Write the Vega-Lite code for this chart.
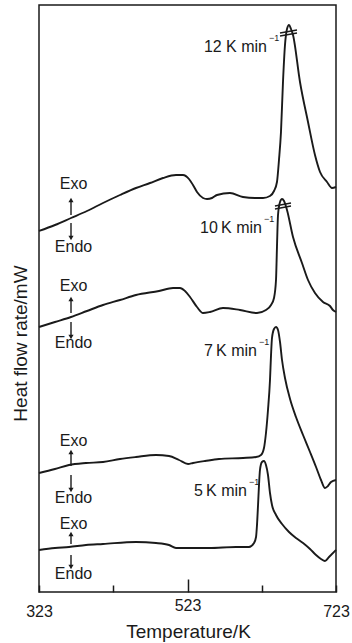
{
  "$schema": "https://vega.github.io/schema/vega-lite/v6.json",
  "width": 297,
  "height": 587,
  "autosize": "none",
  "padding": {"left": 39, "top": 5, "right": 16, "bottom": 51},
  "background": "white",
  "config": {
    "view": {"stroke": "#1a1a1a", "strokeWidth": 1.5},
    "font": "Liberation Sans",
    "text": {"font": "Liberation Sans", "color": "#1a1a1a"}
  },
  "datasets": {
    "curves": [
      {"rate": "12", "T": 323.0, "hf": 72.2}, {"rate": "12", "T": 344.5, "hf": 73.4}, {"rate": "12", "T": 366.1, "hf": 74.8},
      {"rate": "12", "T": 387.6, "hf": 76.2}, {"rate": "12", "T": 409.2, "hf": 77.8}, {"rate": "12", "T": 432.1, "hf": 79.4},
      {"rate": "12", "T": 453.6, "hf": 80.8}, {"rate": "12", "T": 472.5, "hf": 81.8}, {"rate": "12", "T": 490.0, "hf": 82.8},
      {"rate": "12", "T": 507.5, "hf": 83.4}, {"rate": "12", "T": 516.9, "hf": 83.4}, {"rate": "12", "T": 525.0, "hf": 82.6},
      {"rate": "12", "T": 530.4, "hf": 81.4}, {"rate": "12", "T": 535.8, "hf": 80.0}, {"rate": "12", "T": 543.9, "hf": 78.8},
      {"rate": "12", "T": 549.3, "hf": 78.6}, {"rate": "12", "T": 556.0, "hf": 78.8}, {"rate": "12", "T": 562.7, "hf": 79.4},
      {"rate": "12", "T": 580.2, "hf": 79.8}, {"rate": "12", "T": 597.7, "hf": 79.0}, {"rate": "12", "T": 613.9, "hf": 78.8},
      {"rate": "12", "T": 624.7, "hf": 78.8}, {"rate": "12", "T": 634.1, "hf": 79.2}, {"rate": "12", "T": 639.5, "hf": 80.2},
      {"rate": "12", "T": 643.5, "hf": 82.0}, {"rate": "12", "T": 646.2, "hf": 86.4}, {"rate": "12", "T": 648.9, "hf": 92.0},
      {"rate": "12", "T": 651.6, "hf": 102.0}, {"rate": "12", "T": 654.3, "hf": 109.4}, {"rate": "12", "T": 657.0, "hf": 112.6},
      {"rate": "12", "T": 659.7, "hf": 113.4}, {"rate": "12", "T": 662.4, "hf": 112.6}, {"rate": "12", "T": 665.1, "hf": 111.4},
      {"rate": "12", "T": 674.5, "hf": 102.0}, {"rate": "12", "T": 685.3, "hf": 94.0}, {"rate": "12", "T": 694.7, "hf": 87.4},
      {"rate": "12", "T": 701.5, "hf": 84.0}, {"rate": "12", "T": 710.9, "hf": 82.0}, {"rate": "12", "T": 717.6, "hf": 80.8},
      {"rate": "12", "T": 723.0, "hf": 81.0},

      {"rate": "10", "T": 323.0, "hf": 53.0}, {"rate": "10", "T": 344.5, "hf": 54.0}, {"rate": "10", "T": 366.1, "hf": 55.0},
      {"rate": "10", "T": 387.6, "hf": 56.2}, {"rate": "10", "T": 409.2, "hf": 57.4}, {"rate": "10", "T": 432.1, "hf": 58.4},
      {"rate": "10", "T": 453.6, "hf": 59.4}, {"rate": "10", "T": 484.6, "hf": 60.2}, {"rate": "10", "T": 503.5, "hf": 60.8},
      {"rate": "10", "T": 512.9, "hf": 60.8}, {"rate": "10", "T": 519.6, "hf": 60.2}, {"rate": "10", "T": 526.4, "hf": 59.0},
      {"rate": "10", "T": 535.8, "hf": 57.0}, {"rate": "10", "T": 543.9, "hf": 55.8}, {"rate": "10", "T": 553.3, "hf": 56.0},
      {"rate": "10", "T": 570.8, "hf": 56.8}, {"rate": "10", "T": 593.7, "hf": 56.4}, {"rate": "10", "T": 616.6, "hf": 55.8},
      {"rate": "10", "T": 628.7, "hf": 56.4}, {"rate": "10", "T": 635.5, "hf": 57.4}, {"rate": "10", "T": 639.5, "hf": 58.8},
      {"rate": "10", "T": 642.2, "hf": 62.4}, {"rate": "10", "T": 643.5, "hf": 69.0}, {"rate": "10", "T": 644.9, "hf": 75.4},
      {"rate": "10", "T": 647.6, "hf": 78.0}, {"rate": "10", "T": 650.3, "hf": 78.6}, {"rate": "10", "T": 653.0, "hf": 78.2},
      {"rate": "10", "T": 657.0, "hf": 76.4}, {"rate": "10", "T": 665.1, "hf": 71.0}, {"rate": "10", "T": 677.2, "hf": 65.8},
      {"rate": "10", "T": 685.3, "hf": 62.4}, {"rate": "10", "T": 694.7, "hf": 59.8}, {"rate": "10", "T": 705.5, "hf": 58.0},
      {"rate": "10", "T": 714.9, "hf": 57.2}, {"rate": "10", "T": 718.9, "hf": 56.4}, {"rate": "10", "T": 723.0, "hf": 56.0},

      {"rate": "7", "T": 323.0, "hf": 23.8}, {"rate": "7", "T": 344.5, "hf": 24.6}, {"rate": "7", "T": 363.4, "hf": 25.4},
      {"rate": "7", "T": 386.3, "hf": 25.8}, {"rate": "7", "T": 409.2, "hf": 26.0}, {"rate": "7", "T": 432.1, "hf": 26.6},
      {"rate": "7", "T": 453.6, "hf": 27.0}, {"rate": "7", "T": 480.6, "hf": 27.4}, {"rate": "7", "T": 498.1, "hf": 27.2},
      {"rate": "7", "T": 511.6, "hf": 26.4}, {"rate": "7", "T": 523.7, "hf": 25.6}, {"rate": "7", "T": 530.4, "hf": 25.8},
      {"rate": "7", "T": 546.6, "hf": 26.2}, {"rate": "7", "T": 565.4, "hf": 26.6}, {"rate": "7", "T": 597.7, "hf": 26.8},
      {"rate": "7", "T": 615.3, "hf": 27.0}, {"rate": "7", "T": 622.0, "hf": 27.4}, {"rate": "7", "T": 626.0, "hf": 28.8},
      {"rate": "7", "T": 628.7, "hf": 31.8}, {"rate": "7", "T": 631.4, "hf": 36.4}, {"rate": "7", "T": 634.1, "hf": 42.4},
      {"rate": "7", "T": 635.5, "hf": 47.4}, {"rate": "7", "T": 636.8, "hf": 50.8}, {"rate": "7", "T": 639.5, "hf": 52.6},
      {"rate": "7", "T": 642.2, "hf": 53.0}, {"rate": "7", "T": 644.9, "hf": 52.4}, {"rate": "7", "T": 647.6, "hf": 50.0},
      {"rate": "7", "T": 650.3, "hf": 46.4}, {"rate": "7", "T": 654.3, "hf": 42.8}, {"rate": "7", "T": 661.1, "hf": 38.6},
      {"rate": "7", "T": 669.1, "hf": 35.0}, {"rate": "7", "T": 678.6, "hf": 31.4}, {"rate": "7", "T": 688.0, "hf": 28.0},
      {"rate": "7", "T": 696.1, "hf": 25.0}, {"rate": "7", "T": 702.8, "hf": 22.4}, {"rate": "7", "T": 708.2, "hf": 20.8},
      {"rate": "7", "T": 712.2, "hf": 21.2}, {"rate": "7", "T": 716.3, "hf": 22.0}, {"rate": "7", "T": 723.0, "hf": 22.4},

      {"rate": "5", "T": 323.0, "hf": 8.4}, {"rate": "5", "T": 344.5, "hf": 8.8}, {"rate": "5", "T": 363.4, "hf": 9.0},
      {"rate": "5", "T": 386.3, "hf": 9.4}, {"rate": "5", "T": 409.2, "hf": 9.6}, {"rate": "5", "T": 453.6, "hf": 10.0},
      {"rate": "5", "T": 480.6, "hf": 9.8}, {"rate": "5", "T": 498.1, "hf": 9.4}, {"rate": "5", "T": 507.5, "hf": 8.8},
      {"rate": "5", "T": 521.0, "hf": 8.8}, {"rate": "5", "T": 552.0, "hf": 8.8}, {"rate": "5", "T": 588.3, "hf": 9.0},
      {"rate": "5", "T": 605.8, "hf": 9.0}, {"rate": "5", "T": 612.6, "hf": 9.8}, {"rate": "5", "T": 615.3, "hf": 11.0},
      {"rate": "5", "T": 616.6, "hf": 13.4}, {"rate": "5", "T": 618.0, "hf": 17.4}, {"rate": "5", "T": 619.3, "hf": 21.4},
      {"rate": "5", "T": 620.6, "hf": 24.4}, {"rate": "5", "T": 623.3, "hf": 26.0}, {"rate": "5", "T": 626.0, "hf": 26.2},
      {"rate": "5", "T": 628.7, "hf": 25.4}, {"rate": "5", "T": 631.4, "hf": 23.4}, {"rate": "5", "T": 634.1, "hf": 19.8},
      {"rate": "5", "T": 636.8, "hf": 17.4}, {"rate": "5", "T": 642.2, "hf": 15.4}, {"rate": "5", "T": 650.3, "hf": 13.6},
      {"rate": "5", "T": 659.7, "hf": 12.0}, {"rate": "5", "T": 669.1, "hf": 10.8}, {"rate": "5", "T": 678.6, "hf": 9.8},
      {"rate": "5", "T": 688.0, "hf": 8.6}, {"rate": "5", "T": 696.1, "hf": 7.4}, {"rate": "5", "T": 702.8, "hf": 6.6},
      {"rate": "5", "T": 708.2, "hf": 6.2}, {"rate": "5", "T": 713.6, "hf": 7.0}, {"rate": "5", "T": 723.0, "hf": 8.4}
    ],
    "breaks": [
      {"rate": "12", "T": 647.6, "hf": 111.8, "T2": 670.5, "hf2": 112.4},
      {"rate": "12", "T": 647.6, "hf": 111.2, "T2": 670.5, "hf2": 111.8},
      {"rate": "10", "T": 640.8, "hf": 77.2, "T2": 662.4, "hf2": 77.8},
      {"rate": "10", "T": 640.8, "hf": 76.6, "T2": 662.4, "hf2": 77.2}
    ],
    "arrows": [
      {"rate": "12", "dir": "up", "T": 366.1, "hf": 75.4, "hf2": 78.4},
      {"rate": "12", "dir": "down", "T": 366.1, "hf": 73.8, "hf2": 70.8},
      {"rate": "10", "dir": "up", "T": 366.1, "hf": 55.8, "hf2": 58.6},
      {"rate": "10", "dir": "down", "T": 366.1, "hf": 54.0, "hf2": 51.0},
      {"rate": "7", "dir": "up", "T": 366.1, "hf": 25.2, "hf2": 28.0},
      {"rate": "7", "dir": "down", "T": 366.1, "hf": 23.4, "hf2": 20.4},
      {"rate": "5", "dir": "up", "T": 366.1, "hf": 9.6, "hf2": 11.6},
      {"rate": "5", "dir": "down", "T": 366.1, "hf": 7.4, "hf2": 5.0}
    ],
    "rateLabels": [
      {"label": "12 K min", "T": 630.1, "hf": 109.0, "supT": 632.8, "supHf": 110.8},
      {"label": "10\u2009K min", "T": 623.3, "hf": 72.8, "supT": 626.0, "supHf": 74.6},
      {"label": "7\u2009K min", "T": 616.6, "hf": 48.2, "supT": 619.3, "supHf": 50.0},
      {"label": "5\u2009K min", "T": 603.1, "hf": 20.2, "supT": 605.8, "supHf": 22.0}
    ],
    "directions": [
      {"label": "Exo", "T": 369.5, "hf": 81.6},
      {"label": "Endo", "T": 369.5, "hf": 69.0},
      {"label": "Exo", "T": 369.5, "hf": 61.2},
      {"label": "Endo", "T": 369.5, "hf": 49.8},
      {"label": "Exo", "T": 369.5, "hf": 30.2},
      {"label": "Endo", "T": 369.5, "hf": 18.8},
      {"label": "Exo", "T": 369.5, "hf": 13.6},
      {"label": "Endo", "T": 369.5, "hf": 3.6}
    ]
  },
  "encoding": {
    "x": {
      "field": "T",
      "type": "quantitative",
      "scale": {"domain": [323, 723], "nice": false, "zero": false},
      "axis": {
        "title": "Temperature/K",
        "values": [323, 423, 523, 623, 723],
        "labelExpr": "datum.value % 200 == 123 ? datum.label : ''",
        "labelFlush": false,
        "labelOverlap": false,
        "labelFont": "Liberation Sans",
        "labelFontSize": 16,
        "labelColor": "#1a1a1a",
        "labelPadding": 18,
        "tickColor": "#1a1a1a",
        "tickWidth": 1.5,
        "tickSize": {"condition": {"test": "datum.value == 523", "value": -13}, "value": -7},
        "domain": false,
        "grid": false,
        "titleFont": "Liberation Sans",
        "titleFontSize": 19,
        "titleFontWeight": "normal",
        "titleColor": "#1a1a1a",
        "titleBaseline": "alphabetic",
        "titleY": 45,
        "titleX": 149
      }
    },
    "y": {
      "field": "hf",
      "type": "quantitative",
      "scale": {"domain": [0, 117.4], "nice": false, "zero": false},
      "axis": {
        "title": "Heat flow rate/mW",
        "labels": false,
        "ticks": false,
        "domain": false,
        "grid": false,
        "titleFont": "Liberation Sans",
        "titleFontSize": 19,
        "titleFontWeight": "normal",
        "titleColor": "#1a1a1a",
        "titleAngle": -90,
        "titleAlign": "center",
        "titleBaseline": "middle",
        "titleX": -19,
        "titleY": 338
      }
    }
  },
  "layer": [
    {
      "data": {"name": "curves"},
      "mark": {"type": "line", "interpolate": "monotone", "stroke": "#1a1a1a", "strokeWidth": 1.9},
      "encoding": {"detail": {"field": "rate"}}
    },
    {
      "data": {"name": "breaks"},
      "mark": {"type": "rule", "stroke": "#1a1a1a", "strokeWidth": 1.4},
      "encoding": {"x2": {"field": "T2"}, "y2": {"field": "hf2"}}
    },
    {
      "data": {"name": "arrows"},
      "mark": {"type": "rule", "stroke": "#1a1a1a", "strokeWidth": 1.4},
      "encoding": {"y2": {"field": "hf2"}}
    },
    {
      "data": {"name": "arrows"},
      "mark": {"type": "point", "filled": true, "color": "#1a1a1a", "size": 26, "opacity": 1},
      "encoding": {
        "y": {"field": "hf2", "type": "quantitative"},
        "shape": {
          "field": "dir",
          "type": "nominal",
          "scale": {"domain": ["up", "down"], "range": ["triangle-up", "triangle-down"]},
          "legend": null
        }
      }
    },
    {
      "data": {"name": "rateLabels"},
      "mark": {"type": "text", "align": "right", "baseline": "middle", "fontSize": 16},
      "encoding": {"text": {"field": "label"}}
    },
    {
      "data": {"name": "rateLabels"},
      "mark": {"type": "text", "align": "left", "baseline": "middle", "fontSize": 9},
      "encoding": {
        "x": {"field": "supT", "type": "quantitative"},
        "y": {"field": "supHf", "type": "quantitative"},
        "text": {"value": "\u22121"}
      }
    },
    {
      "data": {"name": "directions"},
      "mark": {"type": "text", "align": "center", "baseline": "middle", "fontSize": 16},
      "encoding": {"text": {"field": "label"}}
    }
  ]
}
